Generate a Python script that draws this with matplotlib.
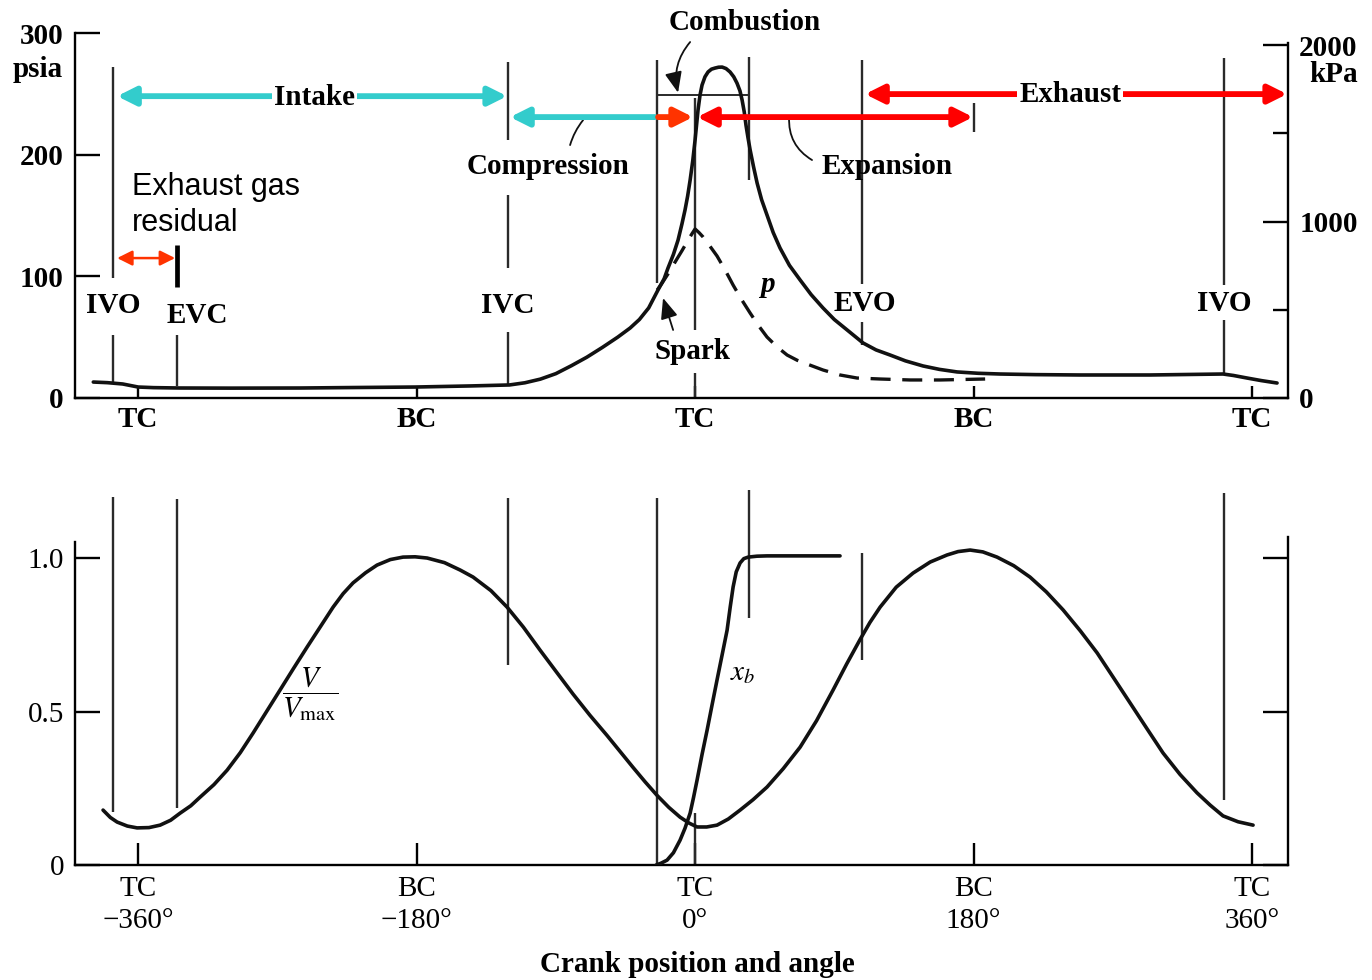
import matplotlib
matplotlib.use("Agg")
import matplotlib.pyplot as plt

plt.rcParams.update({"font.family": "Liberation Serif", "font.size": 21, "mathtext.fontset": "stix",
                     "axes.linewidth": 1.7, "xtick.major.width": 1.7, "ytick.major.width": 1.7,
                     "ytick.minor.width": 1.7})

CYAN, RED, ORANGE, INK, GREY = "#33cccc", "#ff0000", "#ff3300", "#111111", "#2a2a2a"

# ---- values ----
# fired cylinder pressure, crank deg vs psia
crank_p = [-389, -380, -370, -364, -360, -350, -333, -300, -255, -220, -181, -145, -120, -110, -100, -90,
           -80, -70, -60, -50, -42, -36, -30, -24, -20, -17.5, -14, -11, -8.5, -6.5, -4.8, -3.2, -1.5, 0,
           1.9, 3.2, 4.5, 6.4, 8.4, 10.6, 12.9, 15.2, 17.5, 20, 22.6, 25, 27.1, 29, 30.4, 31.8, 32.9, 34.2,
           35.6, 37.8, 40.1, 43, 46.5, 50.5, 54.9, 61, 67.9, 75, 82.7, 90, 98.3, 108.6, 117, 126.1, 136,
           147.4, 158, 169.4, 183, 197.2, 220, 248.9, 294.1, 341.3, 348, 356.8, 366, 376.2]
p_fired = [13.1, 12.6, 11.5, 10.0, 9.0, 8.5, 8.2, 8.1, 8.2, 8.6, 9.0, 9.9, 10.7, 12.5, 15.5, 20.0,
           26.5, 33.5, 41.5, 50.0, 57.5, 64.5, 74.0, 88.7, 98.0, 106.8, 118.0, 129.8, 143.0, 154.5, 166.0,
           179.1, 195.0, 212.0, 236.6, 249.0, 257.2, 264.0, 268.0, 270.3, 271.2, 271.9, 272.0, 270.8, 268.0,
           264.0, 258.8, 252.5, 244.9, 235.0, 224.3, 214.0, 203.8, 190.0, 176.7, 163.0, 150.4, 136.0, 123.3,
           109.0, 97.0, 85.0, 74.0, 64.5, 55.9, 45.2, 39.5, 35.3, 30.5, 26.3, 23.5, 21.4, 20.3, 19.7, 19.2,
           18.9, 18.9, 19.7, 18.5, 16.4, 14.3, 12.3]
# motored pressure (dashed)
crank_m = [-24.5, -21.3, -17, -12.9, -8.5, -4.5, -2, 0, 2.5, 5.2, 9.5, 14.2, 19.5, 24.6, 30, 35.6, 41,
           46.5, 53, 59.5, 66, 72.4, 82.7, 93.7, 104.7, 119.6, 139.0, 158.4, 187.5]
p_motored = [88.7, 94.5, 103.0, 111.8, 121.0, 129.8, 135.0, 138.9, 136.0, 132.3, 125.0, 116.7, 105.0,
             92.8, 81.0, 69.8, 59.5, 50.1, 42.0, 35.3, 31.0, 27.9, 23.0, 18.9, 16.4, 15.6, 14.8, 14.8, 15.6]
# cylinder volume V/Vmax
crank_v = [-382.7, -378, -373.6, -367, -360.7, -353, -345.8, -339, -332.9, -326, -320, -311, -302.5, -294,
           -285.7, -277, -268.3, -259.5, -250.8, -242, -234, -227.5, -221.1, -213, -205.6, -197, -188.8,
           -181, -173.2, -162, -151.9, -143.5, -132, -121.5, -111, -100.2, -89.5, -78.9, -68, -56.9, -48.5,
           -40.1, -32.3, -24.6, -17, -9.7, -4, 1.3, 7.5, 14.2, 21.5, 29.1, 37.5, 46.5, 57, 67.9, 78.5, 89.2,
           98, 106.7, 113, 119.6, 130, 140.9, 152, 162.9, 170, 177.8, 186, 195.2, 206, 216.5, 227, 237.9,
           249, 259.9, 270.5, 281.2, 292, 302.5, 313.5, 324.5, 333, 341.3, 351, 360.7]
v_ratio = [0.179, 0.155, 0.140, 0.127, 0.121, 0.122, 0.130, 0.146, 0.169, 0.193, 0.221, 0.262, 0.309,
           0.366, 0.430, 0.500, 0.570, 0.641, 0.710, 0.778, 0.840, 0.884, 0.919, 0.952, 0.977, 0.995,
           1.003, 1.004, 1.000, 0.985, 0.961, 0.938, 0.894, 0.840, 0.775, 0.700, 0.628, 0.557, 0.488,
           0.422, 0.370, 0.318, 0.271, 0.227, 0.188, 0.156, 0.137, 0.124, 0.124, 0.130, 0.150, 0.179,
           0.213, 0.254, 0.314, 0.384, 0.470, 0.570, 0.655, 0.735, 0.790, 0.840, 0.905, 0.951, 0.987,
           1.010, 1.021, 1.026, 1.020, 1.003, 0.975, 0.938, 0.890, 0.831, 0.763, 0.691, 0.610, 0.528,
           0.445, 0.365, 0.295, 0.235, 0.195, 0.160, 0.141, 0.130]
# mass fraction burned x_b
crank_xb = [-25.2, -22, -18.1, -14, -9.7, -6.5, -3.2, -1, 1.3, 4.5, 7.8, 11, 14.2, 17.5, 20.7, 22.7, 24.6,
            26.6, 29.1, 31.5, 34.3, 40, 46.5, 93.7]
x_burned = [0.0, 0.006, 0.016, 0.040, 0.081, 0.120, 0.169, 0.220, 0.277, 0.360, 0.440, 0.522, 0.603,
            0.685, 0.765, 0.840, 0.906, 0.955, 0.984, 0.998, 1.003, 1.006, 1.007, 1.007]

# valve / combustion events (crank deg)
IVO_L, EVC, IVC, SPARK, TDC, COMB_END, EVO, BDC, IVO_R = -376, -335, -121, -24.5, 0, 35, 108, 180, 342

centre_deg = [-360, -180, 0, 180, 360]
centre_top = ["TC", "BC", "TC", "BC", "TC"]
centre_bot = ["TC\n\u2212360°", "BC\n\u2212180°", "TC\n0°", "BC\n180°", "TC\n360°"]
psia_ticks = [0, 100, 200, 300]
kpa_ticks = [0, 1000, 2000]
kpa_minor = [500, 1500]
v_ticks = [0, 0.5, 1.0]
PSI_PER_KPA = 1 / 6.895

fig = plt.figure(figsize=(13.72, 9.8), dpi=100)
ax = fig.add_axes([0.0547, 0.5939, 0.8841, 0.3724])
bx = fig.add_axes([0.0547, 0.1173, 0.8841, 0.3916])
XL = (-400.8, 383.3)

# ---------- top: pressure ----------
ax.plot(crank_p, p_fired, color=INK, lw=2.6, solid_joinstyle="round", solid_capstyle="round", zorder=3)
ax.plot(crank_m, p_motored, color=INK, lw=2.4, dashes=(6, 3.5), zorder=3)
ax.set_xlim(*XL); ax.set_ylim(0, 300)
ax.spines["top"].set_visible(False); ax.spines["right"].set_visible(False)
ax.spines["left"].set_bounds(0, 300)
ax.set_xticks(centre_deg, centre_top, fontweight="bold")
ax.set_yticks(psia_ticks, [str(t) for t in psia_ticks], fontweight="bold")
ax.tick_params(axis="x", direction="in", length=9, pad=6)
ax.tick_params(axis="y", direction="in", length=18, pad=8)

rx = ax.twinx()
rx.set_ylim(0, 300)
for s in ("top", "left", "bottom"):
    rx.spines[s].set_visible(False)
rx.spines["right"].set_bounds(0, 292)
rx.set_yticks([k * PSI_PER_KPA for k in kpa_ticks], [str(k) for k in kpa_ticks], fontweight="bold")
rx.set_yticks([k * PSI_PER_KPA for k in kpa_minor], minor=True)
rx.tick_params(axis="y", which="major", direction="in", length=18, pad=8)
rx.tick_params(axis="y", which="minor", direction="in", length=11)
fig.text(0.0277, 0.9286, "psia", ha="center", va="center", fontweight="bold")
fig.text(0.9716, 0.9235, "kPa", ha="center", va="center", fontweight="bold")

# event markers (gaps leave room for labels)
top_marks = [(IVO_L, [(98.6, 272), (12.3, 51.8)]), (EVC, [(9.9, 51.8)]),
             (IVC, [(212, 276), (106.8, 166.8), (10.7, 54.2)]), (SPARK, [(94.5, 277.7)]),
             (TDC, [(55.9, 247), (0, 20.5)]), (COMB_END, [(179, 280)]),
             (EVO, [(93.7, 277.7), (43.5, 62.4)]), (BDC, [(218.6, 242.4)]),
             (IVO_R, [(92.9, 279.4), (18.9, 64.1)])]
for xv, segs in top_marks:
    for lo, hi in segs:
        ax.vlines(xv, lo, hi, color=GREY, lw=1.7, zorder=2)

lab = dict(ha="center", va="center", fontweight="bold", zorder=5)
ax.text(IVO_L, 76.4, "IVO", **lab)
ax.text(-322, 67.4, "EVC", **lab)
ax.text(IVC, 76.4, "IVC", **lab)
ax.text(EVO + 2, 78, "EVO", **lab)
ax.text(IVO_R, 78, "IVO", **lab)
ax.text(-1.9, 38.6, "Spark", **lab)
ax.text(46.5, 92.9, "p", style="italic", **lab)
ax.text(32.3, 309, "Combustion", **lab)
ax.text(-95, 190.6, "Compression", **lab)
ax.text(124, 190.6, "Expansion", **lab)


def harrow(x0, x1, y, color, style, lw=4.2, hl=1.1, hw=0.55):
    ax.annotate("", xy=(x1, y), xytext=(x0, y), annotation_clip=False,
                arrowprops=dict(arrowstyle=f"{style},head_length={hl},head_width={hw}", color=color,
                                lw=lw, shrinkA=0, shrinkB=0, mutation_scale=10), zorder=4)


harrow(IVO_L + 2.4, IVC - 0.5, 248.1, CYAN, "<|-|>")
ax.text(-246, 247.3, "Intake", bbox=dict(fc="white", ec="none", pad=1.5), **lab)
harrow(SPARK - 1.4, IVC + 1.4, 230.9, CYAN, "-|>")
harrow(SPARK + 0.6, TDC - 1.3, 230.9, ORANGE, "-|>")
harrow(TDC + 1.3, BDC - 0.3, 230.9, RED, "<|-|>")
harrow(EVO + 1.9, 382.7, 249.8, RED, "<|-|>")
ax.text(242.4, 249.8, "Exhaust", bbox=dict(fc="white", ec="none", pad=1.5), **lab)
harrow(IVO_L + 2.4, EVC - 1.1, 115, ORANGE, "<|-|>", lw=1.8, hl=0.9, hw=0.45)
ax.vlines(EVC + 0.2, 91.2, 125.7, color="black", lw=3.4, zorder=4)
ax.text(-364, 158.6, "Exhaust gas\nresidual", family="Liberation Sans", fontsize=22,
        ha="left", va="center", linespacing=1.3)

# combustion duration bracket and leaders
ax.plot([SPARK, COMB_END], [249, 249], color=GREY, lw=1.4, zorder=2)
ax.annotate("", xy=(-11, 251), xytext=(-3.2, 292.6), annotation_clip=False,
            arrowprops=dict(arrowstyle="-|>,head_length=0.6,head_width=0.25", color=INK, lw=1.3,
                            connectionstyle="arc3,rad=0.25", shrinkA=0, shrinkB=0))
ax.annotate("", xy=(-72.4, 228.4), xytext=(-80.8, 207.9),
            arrowprops=dict(arrowstyle="-", color=INK, lw=1.3, connectionstyle="arc3,rad=-0.1",
                            shrinkA=0, shrinkB=0))
ax.annotate("", xy=(60.8, 230.9), xytext=(75.6, 195.6),
            arrowprops=dict(arrowstyle="-", color=INK, lw=1.3, connectionstyle="arc3,rad=-0.3",
                            shrinkA=0, shrinkB=0))
ax.annotate("", xy=(-20.7, 82.2), xytext=(-14.2, 55.9),
            arrowprops=dict(arrowstyle="-|>,head_length=0.6,head_width=0.25", color=INK, lw=1.3,
                            shrinkA=0, shrinkB=0))

# ---------- bottom: volume and mass fraction burned ----------
bx.plot(crank_v, v_ratio, color=INK, lw=2.6, solid_joinstyle="round", solid_capstyle="round", zorder=3)
bx.plot(crank_xb, x_burned, color=INK, lw=2.6, solid_joinstyle="round", solid_capstyle="round", zorder=3)
bx.set_xlim(*XL); bx.set_ylim(0, 1.25)
bx.spines["top"].set_visible(False)
bx.spines["left"].set_bounds(0, 1.052); bx.spines["right"].set_bounds(0, 1.068)
bx.set_yticks(v_ticks, ["0", "0.5", "1.0"])
bx.tick_params(axis="y", direction="in", length=18, pad=8, right=True)
bx.set_xticks(centre_deg, centre_bot)
bx.tick_params(axis="x", direction="in", length=16, pad=8)
for t in bx.get_xticklabels():
    t.set_linespacing(1.3)

bot_marks = [(IVO_L, 0.173, 1.199), (EVC, 0.186, 1.192), (IVC, 0.651, 1.195), (SPARK, 0, 1.195),
             (TDC, 0, 0.17), (COMB_END, 0.805, 1.221), (EVO, 0.668, 1.016), (IVO_R, 0.212, 1.212)]
for xv, lo, hi in bot_marks:
    bx.vlines(xv, lo, hi, color=GREY, lw=1.7, zorder=2)

bx.text(-249, 0.554, r"$\dfrac{V}{V_{\mathrm{max}}}$", ha="center", va="center", fontsize=21)
bx.text(31, 0.625, r"$x_b$", ha="center", va="center", fontsize=21)
bx.set_xlabel("Crank position and angle", fontweight="bold")
bx.xaxis.set_label_coords(0.513, -0.225)

fig.savefig("out.png", dpi=100)
